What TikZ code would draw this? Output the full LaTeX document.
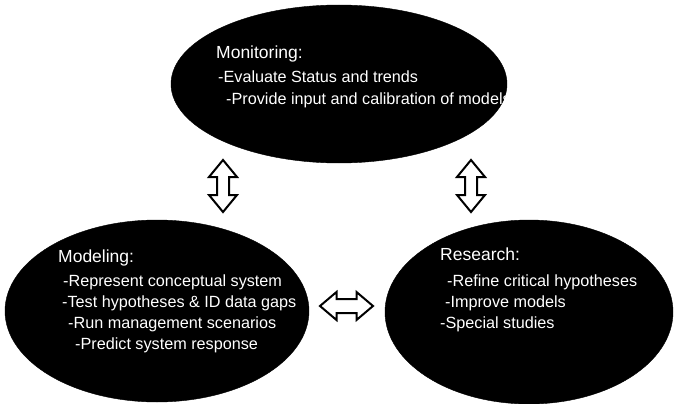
\documentclass[tikz,border=0pt]{standalone}
\usepackage{fontspec}
\setmainfont{Liberation Sans}
\usetikzlibrary{shapes.geometric}
\begin{document}
\begin{tikzpicture}[x=1pt,y=-1pt,
  blob/.style={ellipse, fill=black, draw=black, inner sep=0pt},
  ttl/.style={anchor=base west, text=white, inner sep=0pt, font=\fontsize{17.5}{19}\selectfont},
  txt/.style={anchor=base west, text=white, inner sep=0pt, font=\fontsize{16.2}{18}\selectfont},
  dbl/.style={draw=black, line width=2pt, fill=white, line join=miter}]
\useasboundingbox (0,0) rectangle (675,404);
% ellipses
\node[blob, minimum width=336pt, minimum height=158pt] (mon) at (339,84) {};
\node[blob, minimum width=304pt, minimum height=182pt] (mod) at (157,311) {};
\node[blob, minimum width=288pt, minimum height=184pt] (res) at (529,312) {};
% monitoring text
\node[ttl] (m0) at (216,59) {Monitoring:};
\node[txt] (m1) at (218,83) {-Evaluate Status and trends};
\node[txt] (m2) at (226,105) {-Provide input and calibration of models};
% modeling text
\node[ttl] (d0) at (58,262) {Modeling:};
\node[txt] (d1) at (63,286) {-Represent conceptual system};
\node[txt] (d2) at (62,307) {-Test hypotheses \& ID data gaps};
\node[txt] (d3) at (68,328) {-Run management scenarios};
\node[txt] (d4) at (75,349) {-Predict system response};
% research text
\node[ttl] (r0) at (440,260) {Research:};
\node[txt] (r1) at (447,286) {-Refine critical hypotheses};
\node[txt] (r2) at (445,307) {-Improve models};
\node[txt] (r3) at (440,328) {-Special studies};
% vertical double arrows
\begin{scope}[shift={(223,186)}]
\draw[dbl] (0,-26) -- (14,-9) -- (6,-9) -- (6,9) -- (14,9) -- (0,26) -- (-14,9) -- (-6,9) -- (-6,-9) -- (-14,-9) -- cycle;
\end{scope}
\begin{scope}[shift={(471,186)}]
\draw[dbl] (0,-26) -- (14,-9) -- (6,-9) -- (6,9) -- (14,9) -- (0,26) -- (-14,9) -- (-6,9) -- (-6,-9) -- (-14,-9) -- cycle;
\end{scope}
% horizontal double arrow
\begin{scope}[shift={(346.5,306)}]
\draw[dbl] (-26.5,0) -- (-10,-14) -- (-10,-7) -- (10,-7) -- (10,-14) -- (26.5,0) -- (10,14) -- (10,7) -- (-10,7) -- (-10,14) -- cycle;
\end{scope}
\end{tikzpicture}
\end{document}
